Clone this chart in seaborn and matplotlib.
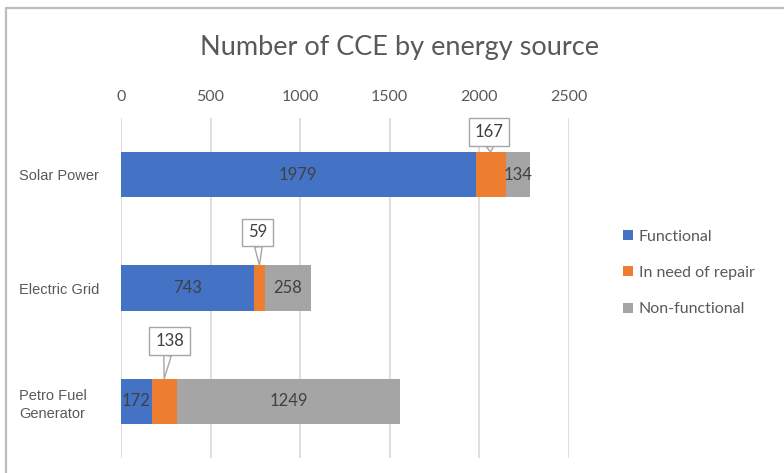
import matplotlib
matplotlib.use("Agg")
import matplotlib.pyplot as plt
from matplotlib.lines import Line2D
from matplotlib.patches import Patch
import numpy as np
import pandas as pd
import seaborn as sns

# Data
categories = ["Solar Power", "Electric Grid", "Petro Fuel\nGenerator"]
functional = [1979, 743, 172]
needs_repair = [167, 59, 138]
non_functional = [134, 258, 1249]
series_names = ["Functional", "In need of repair", "Non-functional"]
x_ticks = [0, 500, 1000, 1500, 2000, 2500]

# Callout box offsets for the "in need of repair" labels (x offset in data units, y offset in category units)
callout_offsets = [(-10, 0.375), (-10, 0.49), (30, 0.53)]

BLUE, ORANGE, GRAY = "#4472C4", "#ED7D31", "#A5A5A5"
TEXT = "#595959"
LABEL = "#404040"

sns.set_theme(style="white")
plt.rcParams["font.family"] = ["Lato", "DejaVu Sans"]

df = pd.DataFrame({
    "source": categories,
    "functional": functional,
    "repair": needs_repair,
    "non_functional": non_functional,
})
df["upto_repair"] = df["functional"] + df["repair"]
df["total"] = df["upto_repair"] + df["non_functional"]

fig = plt.figure(figsize=(7.84, 4.73), dpi=100)
ax = fig.add_axes([121 / 784, 1 - 458 / 473, 448 / 784, 340 / 473])

# Stacked horizontal bars: draw cumulative totals back to front
sns.barplot(data=df, x="total", y="source", color=GRAY, width=0.4,
            orient="h", linewidth=0, saturation=1, ax=ax, zorder=2)
sns.barplot(data=df, x="upto_repair", y="source", color=ORANGE, width=0.4,
            orient="h", linewidth=0, saturation=1, ax=ax, zorder=2)
sns.barplot(data=df, x="functional", y="source", color=BLUE, width=0.4,
            orient="h", linewidth=0, saturation=1, ax=ax, zorder=2)

ax.set_xlim(0, 2500)
ax.set_ylim(2.5, -0.5)
ax.set_xlabel("")
ax.set_ylabel("")
ax.set_xticks(x_ticks)
ax.xaxis.tick_top()
ax.tick_params(axis="x", length=0, pad=10, labelsize=11.5, labelcolor=TEXT)
# category labels start 102 px left of the plot area (pad is in points)
ax.tick_params(axis="y", length=0, pad=102 * 0.72, labelsize=10.5, labelcolor=TEXT)
for lbl in ax.get_yticklabels():
    lbl.set_fontfamily(["Liberation Sans", "DejaVu Sans"])
    lbl.set_horizontalalignment("left")
    lbl.set_multialignment("left")
    lbl.set_linespacing(1.35)
for s in ax.spines.values():
    s.set_visible(False)
ax.grid(axis="x", color="#d9d9d9", linewidth=1.2, zorder=0)
ax.set_axisbelow(True)

# Value labels inside the blue and gray segments
for i, row in df.iterrows():
    ax.text(row["functional"] / 2, i, f"{row['functional']}", ha="center", va="center",
            fontsize=12, color=LABEL, zorder=5)
    ax.text(row["upto_repair"] + row["non_functional"] / 2, i, f"{row['non_functional']}",
            ha="center", va="center", fontsize=12, color=LABEL, zorder=5)

# Callouts for the repair segment
for i, row in df.iterrows():
    cx = row["functional"] + row["repair"] / 2
    dx, dy = callout_offsets[i]
    ax.annotate(f"{row['repair']}", xy=(cx, i - 0.2), xytext=(cx + dx, i - dy),
                textcoords="data", ha="center", va="center", fontsize=12, color=LABEL,
                bbox=dict(boxstyle="square,pad=0.35", fc="white", ec="#a6a6a6", lw=1),
                arrowprops=dict(arrowstyle="wedge,tail_width=0.45,shrink_factor=0.5",
                                fc="white", ec="#a6a6a6", lw=1, shrinkA=0, shrinkB=0),
                zorder=6)

# Title
fig.text(400 / 784, 1 - 48 / 473, "Number of CCE by energy source", ha="center", va="center",
         fontsize=19.5, color=TEXT)

# Legend
handles = [Patch(facecolor=c, edgecolor="none") for c in (BLUE, ORANGE, GRAY)]
fig.legend(handles, series_names, loc="center left", bbox_to_anchor=(615 / 784, 1 - 273 / 473),
           frameon=False, fontsize=11.5, labelcolor=TEXT, handlelength=0.6, handleheight=0.6,
           handletextpad=0.4, labelspacing=1.4, borderpad=0)

# Chart frame
fig.add_artist(Line2D([5.5 / 784, 1], [1 - 8.5 / 473, 1 - 8.5 / 473], transform=fig.transFigure,
                      color="#bdbdbd", linewidth=1.6))
fig.add_artist(Line2D([5.5 / 784, 5.5 / 784], [0, 1 - 8.5 / 473], transform=fig.transFigure,
                      color="#bdbdbd", linewidth=1.6))

fig.savefig("out.png", dpi=100, facecolor="white")
